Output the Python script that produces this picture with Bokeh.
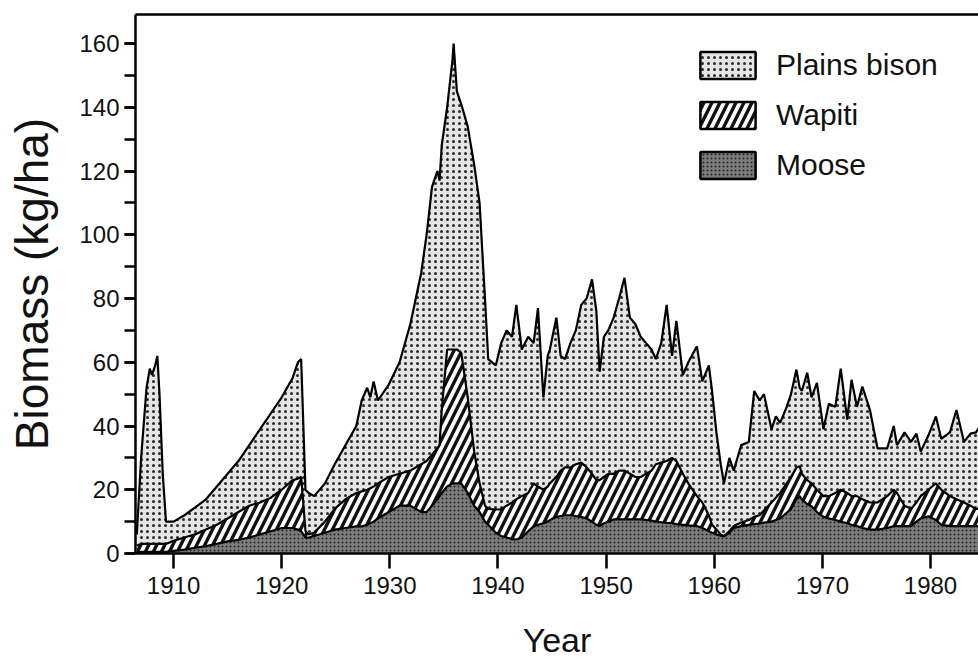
import numpy as np
from bokeh.plotting import figure
from bokeh.models import (ColumnDataSource, Range1d, SingleIntervalTicker, FixedTicker,
                          LinearAxis, Legend, LegendItem)
from bokeh.embed import file_html
from bokeh.resources import INLINE

# ---- data (kg/ha) ----
years = [1906.6, 1907.0, 1907.5, 1907.8, 1908.0, 1908.3, 1908.5, 1908.7, 1909.0, 1909.3,
         1910, 1911, 1912, 1913, 1914, 1915, 1916, 1917, 1918, 1919, 1920, 1921, 1921.5, 1921.8,
         1922.2, 1922.5, 1923, 1924, 1924.9, 1925.9, 1926.9, 1927.4, 1927.9, 1928.2, 1928.5, 1928.9,
         1929.9, 1930.9, 1931.9, 1932.9, 1933.4, 1933.9, 1934.4, 1934.6, 1934.8, 1935.3, 1935.8,
         1935.9, 1936.2, 1936.6, 1937.2, 1937.8, 1938.3, 1938.8, 1939.1, 1939.8, 1940.3, 1940.8,
         1941.3, 1941.7, 1942.2, 1942.8, 1943.3, 1943.7, 1944.2, 1944.6, 1944.8, 1945.4, 1945.8,
         1946.2, 1946.7, 1947.2, 1947.7, 1948.2, 1948.7, 1949.1, 1949.4, 1949.8, 1950.2, 1950.7,
         1951.2, 1951.7, 1952.2, 1952.7, 1953.2, 1953.7, 1954.2, 1954.6, 1955.1, 1955.6, 1956.1,
         1956.5, 1957.1, 1957.6, 1958.4, 1958.9, 1959.5, 1959.8, 1960.2, 1960.6, 1960.9, 1961.4,
         1961.8, 1962.5, 1963.2, 1963.7, 1964.2, 1964.6, 1965.3, 1965.7, 1966.1, 1966.7, 1967.1,
         1967.6, 1967.9, 1968.1, 1968.6, 1969.0, 1969.5, 1970.1, 1970.6, 1971.2, 1971.7, 1972.3,
         1972.7, 1973.2, 1973.7, 1974.4, 1975.1, 1976.0, 1976.6, 1976.9, 1977.6, 1978.2, 1978.7,
         1979.1, 1979.8, 1980.5, 1981.0, 1981.8, 1982.4, 1983.1, 1983.7, 1984.2, 1984.6]

moose = [0.5, 0.5, 0.5, 0.5, 0.5, 0.5, 0.5, 0.5, 0.5, 0.5,
         0.8, 1.2, 1.8, 2.3, 3, 3.8, 4.3, 5, 6, 7, 8, 8, 7.5, 7,
         5, 5, 5.5, 6.5, 7.5, 8, 8.5, 8.5, 9, 9.5, 10, 11,
         13, 15, 15, 13, 13, 15, 17, 18, 19, 21, 22,
         22, 22, 22, 19, 15, 13, 10, 9, 6.5, 5.5, 5,
         4.5, 4.4, 5, 7, 8.5, 9, 9.5, 10, 10.5, 11.5, 11.7,
         12, 12, 11.7, 11.5, 11, 10, 9, 8.6, 9.5, 10, 10.7,
         10.7, 10.7, 10.7, 10.7, 10.7, 10.5, 10.3, 10, 9.8, 9.6, 9.5,
         9.2, 9, 8.8, 8.6, 8, 7, 6.5, 6, 5.6, 5.4, 6.5,
         8, 8.6, 9, 9.2, 9.4, 9.7, 10, 10.5, 11, 12.8, 14,
         17, 18, 17, 15.5, 14.8, 13, 11.5, 11, 10.5, 10, 9.5,
         9, 8.6, 8, 7.5, 7.5, 8, 8.6, 8.6, 8.6, 8.6, 10,
         11, 11.7, 10.5, 9, 8.6, 8.6, 8.6, 8.6, 8.6, 8.6]

wapiti = [2, 2.5, 2.5, 2.5, 2.5, 2.5, 2.5, 2.5, 2.5, 2.5,
          3.2, 3.8, 4.2, 5.2, 6, 7.2, 8.7, 10, 10, 10.5, 12, 15, 16, 17,
          2, 1, 1, 3.5, 6.5, 9, 10.5, 11, 11, 11, 11, 11,
          11, 10, 11, 15, 16, 16, 16, 16, 26, 43, 42,
          42, 42, 41, 30, 17, 9, 5, 5, 7.3, 8.3, 10,
          11.5, 12.6, 13, 12, 13.5, 12, 10.5, 11, 11.5, 12.5, 14.3,
          15, 15, 16.3, 17, 16, 15, 14, 14.4, 14.5, 15, 14.3,
          15.3, 15.3, 14.3, 13.3, 13.3, 14.5, 15.7, 18, 18.7, 19.4, 20.5,
          19.8, 16, 13.2, 9.4, 8, 5, 2.5, 1.5, 0.4, 0, 0.5,
          0.6, 1.1, 1.5, 2.3, 2.6, 3.8, 6, 7, 8, 9.2, 10,
          10, 9.4, 8, 7.5, 7.2, 7, 6.5, 7, 8.5, 10, 9.5,
          9, 9.4, 9, 8.5, 8.5, 10, 11.4, 10.4, 6.4, 5.4, 6,
          7, 8.3, 11.5, 11, 9.4, 8.4, 7.4, 6.4, 5.4, 5.4]

bison = [3.5, 27, 49, 55, 53, 56, 59, 47, 22, 7,
         6, 7, 8.5, 9.5, 12, 14, 16, 19, 23, 26.5, 29, 32, 36.5, 37,
         13, 13, 11.5, 12, 14, 17, 21, 28.5, 32, 28.5, 33, 26,
         29, 35, 46, 60, 71, 84, 87, 83, 83, 76, 91,
         96, 81, 78, 85, 90, 88, 65, 47, 45.2, 52.2, 55,
         52, 61, 46, 49, 44, 56, 29, 41, 42, 50, 36,
         34, 39, 42, 49.5, 53, 61, 53, 34, 44, 45, 49,
         54, 60.5, 49, 48, 44, 41, 38, 33, 37.5, 49, 32,
         44, 31, 38, 47, 38, 47, 42, 30.5, 22, 16.6, 23,
         17.4, 24.3, 24.5, 39.5, 36, 36.5, 23, 25.5, 22, 24, 26,
         30.7, 24.6, 26, 33.7, 27, 33.5, 21, 29, 27, 38, 23,
         36.5, 28, 35.4, 29, 17, 15, 20, 15, 23, 21, 21.6,
         14, 17, 21, 16, 20, 28, 19, 22.6, 24, 26]

species = ["Plains bison", "Wapiti", "Moose"]
x_ticks = [1910, 1920, 1930, 1940, 1950, 1960, 1970, 1980]

# ---- stacking ----
m = np.array(moose, dtype=float)
w = m + np.array(wapiti, dtype=float)
t = w + np.array(bison, dtype=float)
src = ColumnDataSource(dict(x=years, zero=np.zeros_like(m), m=m, w=w, t=t))

FONT = "Liberation Sans"

p = figure(width=978, height=661, output_backend="svg", toolbar_location=None,
           x_range=Range1d(1906.48, 1984.44), y_range=Range1d(0, 169.1),
           min_border_left=135, min_border_right=0, min_border_top=14, min_border_bottom=107)
p.outline_line_color = None
p.grid.visible = False
p.background_fill_color = "white"

bison_style = dict(fill_color="#e4e4e4", hatch_pattern="dot", hatch_color="#2a2a2a",
                   hatch_scale=6, hatch_weight=3)
wapiti_style = dict(fill_color="white", hatch_pattern="right_diagonal_line", hatch_color="#111111",
                    hatch_scale=16, hatch_weight=3.4)
moose_style = dict(fill_color="#7c7c7c", hatch_pattern="dot", hatch_color="#262626",
                   hatch_scale=4, hatch_weight=2)

p.varea(x="x", y1="w", y2="t", source=src, **bison_style)
p.varea(x="x", y1="m", y2="w", source=src, **wapiti_style)
p.varea(x="x", y1="zero", y2="m", source=src, **moose_style)
for col in ["m", "w", "t"]:
    p.line(x="x", y=col, source=src, line_color="black", line_width=2.2)

# legend swatches (no visible marks in the plot area)
nan_src = ColumnDataSource(dict(l=[np.nan], r=[np.nan], b=[np.nan], tp=[np.nan]))
sw = []
for st in [bison_style, wapiti_style, moose_style]:
    sw.append(p.quad(left="l", right="r", bottom="b", top="tp", source=nan_src,
                     line_color="black", line_width=2.5, **st))
legend = Legend(items=[LegendItem(label=s, renderers=[r]) for s, r in zip(species, sw)],
                location=(558, 371), padding=0, margin=0, spacing=16,
                glyph_width=69, glyph_height=34, label_standoff=14,
                label_text_font=FONT, label_text_font_size="30px", label_text_color="#111111",
                border_line_color=None, background_fill_alpha=0)
p.add_layout(legend)

# axes
xa = p.xaxis[0]
xa.ticker = FixedTicker(ticks=x_ticks)
xa.axis_label = "Year"
ya = p.yaxis[0]
ya.ticker = SingleIntervalTicker(interval=20, num_minor_ticks=2)
ya.axis_label = "Biomass (kg/ha)"
for ax in [xa, ya]:
    ax.axis_line_width = 2.5
    ax.axis_line_color = "black"
    ax.major_tick_line_width = 2.5
    ax.minor_tick_line_width = 2.5
    ax.major_tick_in = 0
    ax.minor_tick_in = 0
    ax.major_label_text_font = FONT
    ax.major_label_text_font_size = "24px"
    ax.major_label_text_color = "#111111"
    ax.axis_label_text_font = FONT
    ax.axis_label_text_font_style = "normal"
    ax.axis_label_text_color = "#111111"
xa.axis_label_text_font_size = "34px"
ya.axis_label_text_font_size = "46px"
xa.major_tick_out = 15
xa.minor_tick_out = 0
xa.major_label_standoff = 8
xa.axis_label_standoff = 24
ya.major_tick_out = 11
ya.minor_tick_out = 11
ya.major_label_standoff = 5
ya.axis_label_standoff = 18

top = LinearAxis(axis_line_width=2.5, axis_line_color="black", major_tick_out=0, major_tick_in=0,
                 minor_tick_out=0, minor_tick_in=0, major_label_text_font_size="0px",
                 major_label_text_alpha=0)
p.add_layout(top, "above")

open("out.html", "w").write(file_html(p, INLINE))
